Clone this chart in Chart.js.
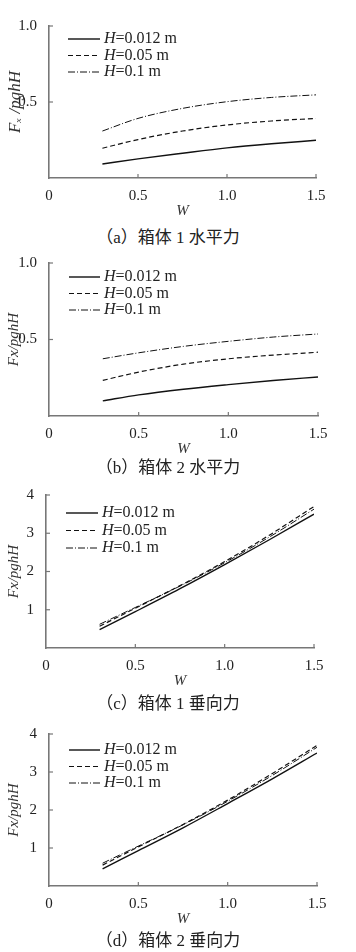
<!DOCTYPE html>
<html>
<head>
<meta charset="utf-8">
<script src="https://cdn.jsdelivr.net/npm/chart.js@4/dist/chart.umd.min.js"></script>
<style>
  body { margin: 0; background: #fff; width: 356px; height: 952px; position: relative; overflow: hidden; }
  .panel { position: absolute; left: 0; width: 356px; }
  .caption { position: absolute; left: 0; width: 336px; text-align: center;
             font-family: "Liberation Serif", "Noto Sans CJK SC", serif; font-size: 17px; color: #222; }
</style>
</head>
<body>
<div class="panel" id="pa"><canvas id="chartA"></canvas></div>
<div class="caption" style="top:223px">（a）箱体 1 水平力</div>
<div class="panel" id="pb"><canvas id="chartB"></canvas></div>
<div class="caption" style="top:453px">（b）箱体 2 水平力</div>
<div class="panel" id="pc"><canvas id="chartC"></canvas></div>
<div class="caption" style="top:689px">（c）箱体 1 垂向力</div>
<div class="panel" id="pd"><canvas id="chartD"></canvas></div>
<div class="caption" style="top:926px">（d）箱体 2 垂向力</div>
<script>
// W 取值
const wValues = [0.3, 0.5, 0.75, 1.0, 1.25, 1.5];
const seriesLabels = ['H=0.012 m', 'H=0.05 m', 'H=0.1 m'];

// (a) 箱体1 水平力
const a012 = [0.092, 0.126, 0.163, 0.198, 0.225, 0.248];
const a05  = [0.196, 0.253, 0.309, 0.349, 0.375, 0.392];
const a1   = [0.309, 0.392, 0.458, 0.502, 0.530, 0.547];
// (b) 箱体2 水平力
const b012 = [0.099, 0.138, 0.175, 0.205, 0.232, 0.255];
const b05  = [0.233, 0.287, 0.339, 0.374, 0.398, 0.417];
const b1   = [0.374, 0.413, 0.455, 0.488, 0.516, 0.536];
// (c) 箱体1 垂向力
const c012 = [0.48, 0.95, 1.55, 2.18, 2.83, 3.50];
const c05  = [0.57, 1.04, 1.63, 2.26, 2.95, 3.70];
const c1   = [0.62, 1.06, 1.62, 2.23, 2.90, 3.63];
// (d) 箱体2 垂向力
const d012 = [0.45, 0.93, 1.53, 2.17, 2.82, 3.50];
const d05  = [0.55, 1.03, 1.62, 2.26, 2.96, 3.70];
const d1   = [0.60, 1.05, 1.61, 2.23, 2.91, 3.65];

const xTicks = [0, 0.5, 1.0, 1.5];
const xTickLabels = ['0', '0.5', '1.0', '1.5'];
const yTicksH = [0.5, 1.0];
const yTickLabelsH = ['0.5', '1.0'];
const yTicksV = [1, 2, 3, 4];
const yTickLabelsV = ['1', '2', '3', '4'];

const serif = '"Liberation Serif", "Times New Roman", serif';
const axisColor = '#777';

const styles = [
  { borderDash: [], borderWidth: 1.4 },
  { borderDash: [5, 3], borderWidth: 1.2 },
  { borderDash: [7, 2, 1, 2], borderWidth: 1.0 }
];

// 向内的刻度线
const innerTicks = {
  id: 'innerTicks',
  afterDraw(chart) {
    const ctx = chart.ctx;
    const area = chart.chartArea;
    ctx.save();
    ctx.strokeStyle = axisColor;
    ctx.lineWidth = 1.2;
    chart.scales.y.ticks.forEach(t => {
      const py = chart.scales.y.getPixelForValue(t.value);
      ctx.beginPath(); ctx.moveTo(area.left, py); ctx.lineTo(area.left + 4, py); ctx.stroke();
    });
    chart.scales.x.ticks.forEach(t => {
      if (t.value === 0) return;
      const px = chart.scales.x.getPixelForValue(t.value);
      ctx.beginPath(); ctx.moveTo(px, area.bottom); ctx.lineTo(px, area.bottom - 4); ctx.stroke();
    });
    ctx.restore();
  }
};

// 图例（H 斜体）
const inLegend = {
  id: 'inLegend',
  afterDraw(chart, args, opts) {
    const ctx = chart.ctx;
    const area = chart.chartArea;
    ctx.save();
    chart.data.datasets.forEach((ds, i) => {
      const y = area.top + opts.top + i * opts.gap;
      ctx.strokeStyle = '#111';
      ctx.lineWidth = ds.borderWidth;
      ctx.setLineDash(ds.borderDash);
      ctx.beginPath(); ctx.moveTo(opts.x0, y); ctx.lineTo(opts.x1, y); ctx.stroke();
      ctx.setLineDash([]);
      ctx.fillStyle = '#222';
      ctx.textBaseline = 'middle';
      ctx.font = 'italic ' + opts.size + 'px ' + serif;
      const h = ds.label.slice(0, 1);
      ctx.fillText(h, opts.x1 + 4, y);
      const w = ctx.measureText(h).width;
      ctx.font = opts.size + 'px ' + serif;
      ctx.fillText(ds.label.slice(1), opts.x1 + 4 + w, y);
    });
    ctx.restore();
  }
};

function makePanel(divId, canvasId, p) {
  const div = document.getElementById(divId);
  const padTop = 12;
  const xH = 42;
  const height = (p.bottom - p.top) + padTop + xH;
  div.style.top = (p.top - padTop) + 'px';
  div.style.height = height + 'px';
  const canvas = document.getElementById(canvasId);
  canvas.width = 356; canvas.height = height;
  canvas.style.width = '356px'; canvas.style.height = height + 'px';

  const datasets = p.series.map((vals, i) => ({
    label: seriesLabels[i],
    data: wValues.map((w, k) => ({ x: w, y: vals[k] })),
    borderColor: '#111',
    borderWidth: styles[i].borderWidth,
    borderDash: styles[i].borderDash,
    pointRadius: 0,
    cubicInterpolationMode: 'monotone',
    fill: false
  }));

  new Chart(canvas.getContext('2d'), {
    type: 'line',
    data: { datasets },
    plugins: [innerTicks, inLegend],
    options: {
      responsive: false,
      animation: false,
      layout: { padding: { top: padTop, right: 356 - p.right, left: 0, bottom: 0 } },
      plugins: {
        legend: { display: false },
        tooltip: { enabled: false },
        inLegend: p.legend
      },
      scales: {
        x: {
          type: 'linear', min: 0, max: 1.5,
          afterBuildTicks: s => { s.ticks = xTicks.map(v => ({ value: v })); },
          afterFit: s => { s.height = xH; },
          grid: { display: false },
          border: { display: true, color: axisColor, width: 1.6 },
          ticks: {
            padding: 1, color: '#222', font: { family: serif, size: 15 },
            maxRotation: 0, autoSkip: false,
            callback: v => xTickLabels[xTicks.indexOf(v)]
          },
          title: { display: true, text: 'W', color: '#333', padding: { top: 0, bottom: 0 },
                   font: { family: serif, size: 15, style: 'italic' } }
        },
        y: {
          type: 'linear', min: 0, max: p.ymax,
          afterBuildTicks: s => { s.ticks = p.yTicks.map(v => ({ value: v })); },
          afterFit: s => { s.width = p.left; },
          grid: { display: false },
          border: { display: true, color: axisColor, width: 1.6 },
          ticks: {
            padding: 4, color: '#222', font: { family: serif, size: 15 },
            autoSkip: false,
            callback: v => p.yTickLabels[p.yTicks.indexOf(v)]
          },
          title: { display: true, text: p.yTitle, color: '#333', padding: { top: 5, bottom: 0 },
                   font: { family: serif, size: p.yTitleSize, style: 'italic' } }
        }
      }
    }
  });
}

makePanel('pa', 'chartA', {
  top: 25, bottom: 178, left: 49, right: 316, ymax: 1.0,
  yTicks: yTicksH, yTickLabels: yTickLabelsH, yTitle: 'Fₓ /pghH', yTitleSize: 17,
  series: [a012, a05, a1],
  legend: { top: 13, gap: 16.5, x0: 68, x1: 100, size: 16 }
});
makePanel('pb', 'chartB', {
  top: 262, bottom: 416, left: 49, right: 318, ymax: 1.0,
  yTicks: yTicksH, yTickLabels: yTickLabelsH, yTitle: 'Fx/pghH', yTitleSize: 15,
  series: [b012, b05, b1],
  legend: { top: 14, gap: 16.5, x0: 69, x1: 100, size: 16 }
});
makePanel('pc', 'chartC', {
  top: 494, bottom: 648, left: 46, right: 314, ymax: 4,
  yTicks: yTicksV, yTickLabels: yTickLabelsV, yTitle: 'Fx/pghH', yTitleSize: 15,
  series: [c012, c05, c1],
  legend: { top: 18, gap: 17.5, x0: 66, x1: 98, size: 16 }
});
makePanel('pd', 'chartD', {
  top: 733, bottom: 886, left: 49, right: 317, ymax: 4,
  yTicks: yTicksV, yTickLabels: yTickLabelsV, yTitle: 'Fx/pghH', yTitleSize: 15,
  series: [d012, d05, d1],
  legend: { top: 16, gap: 16.5, x0: 69, x1: 100, size: 16 }
});
</script>
</body>
</html>
